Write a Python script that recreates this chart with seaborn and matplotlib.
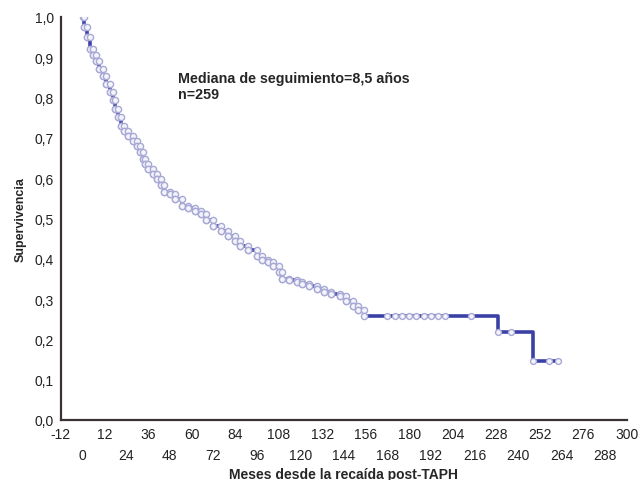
import numpy as np
import matplotlib
matplotlib.use("Agg")
import matplotlib.pyplot as plt
import seaborn as sns

# Kaplan-Meier steps (months, survival)
event_months = [0, 1, 2.5, 4, 5.5, 7.5, 9, 11, 13, 15, 16.5, 18, 19.5, 21, 23, 25,
                27.5, 30, 31.5, 33, 34.5, 36, 38.5, 41, 43, 45, 48, 51, 55, 58, 62,
                65, 68, 72, 76, 80, 84, 87, 91, 96, 99, 102, 105, 108, 110, 114, 118,
                121, 125, 129, 133, 137, 142, 145, 149, 152, 155, 229, 248]
survival = [1.0, 0.975, 0.95, 0.92, 0.905, 0.89, 0.872, 0.854, 0.834, 0.814, 0.793,
            0.772, 0.751, 0.73, 0.717, 0.705, 0.692, 0.68, 0.664, 0.648, 0.636, 0.623,
            0.61, 0.598, 0.582, 0.566, 0.56, 0.548, 0.531, 0.525, 0.519, 0.512, 0.497,
            0.481, 0.469, 0.457, 0.445, 0.432, 0.421, 0.407, 0.398, 0.392, 0.382, 0.366,
            0.35, 0.346, 0.342, 0.338, 0.333, 0.326, 0.318, 0.313, 0.308, 0.296, 0.283,
            0.273, 0.258, 0.218, 0.146]
last_month = 263

# censored patients on the long flat tail
tail_censor = [168, 172, 176, 180, 184, 188, 192, 196, 200, 214, 229, 236, 248, 257, 262]

xticks_top = [-12, 12, 36, 60, 84, 108, 132, 156, 180, 204, 228, 252, 276, 300]
xticks_bottom = [0, 24, 48, 72, 96, 120, 144, 168, 192, 216, 240, 264, 288]
yticks = [0.0, 0.1, 0.2, 0.3, 0.4, 0.5, 0.6, 0.7, 0.8, 0.9, 1.0]

sns.set_style("white")
plt.rcParams['font.family'] = ['Liberation Sans', 'DejaVu Sans']

line_color = "#3b40a6"
marker_edge = "#a9a9d6"

fig = plt.figure(figsize=(6.41, 4.81), dpi=100)
ax = fig.add_axes([0.095, 0.125, 0.883, 0.8376])

# step line
xs = event_months + [last_month]
ys = survival + [survival[-1]]
sns.lineplot(x=xs, y=ys, drawstyle="steps-post", color=line_color, lw=2.6,
             ax=ax, estimator=None, sort=False)

# markers along the dense part (at step corners)
px, py = [], []
for i in range(len(event_months) - 3):
    px += [event_months[i], event_months[i + 1]]
    py += [survival[i], survival[i]]
    px.append(event_months[i + 1])
    py.append(survival[i + 1])
sns.scatterplot(x=px, y=py, s=20, facecolor="#f4f4fb", edgecolor=marker_edge,
                linewidth=1.0, ax=ax, zorder=3)

# censor marks on the tail
idx = np.searchsorted(event_months, tail_censor, side="right") - 1
tail_y = [survival[i] for i in idx]
sns.scatterplot(x=tail_censor, y=tail_y, s=18, facecolor="#f4f4fb",
                edgecolor=marker_edge, linewidth=1.0, ax=ax, zorder=3)

ax.set_xlim(-12, 300)
ax.set_ylim(0, 1.0)

ax.set_xticks(xticks_top)
ax.set_xticklabels([str(v) for v in xticks_top])
ax.set_xticks(xticks_bottom, minor=True)
ax.set_xticklabels([str(v) for v in xticks_bottom], minor=True)
ax.set_yticks(yticks)
ax.set_yticklabels([f"{v:.1f}".replace(".", ",") for v in yticks])

ax.tick_params(axis="x", which="major", direction="in", length=3, width=1,
               pad=5, labelsize=10, colors="#222222")
ax.tick_params(axis="x", which="minor", direction="in", length=3, width=1,
               pad=20, labelsize=10, colors="#222222")
ax.tick_params(axis="y", direction="in", length=3, width=1, pad=5,
               labelsize=10, colors="#222222")

for side in ["top", "right"]:
    ax.spines[side].set_visible(False)
for side in ["left", "bottom"]:
    ax.spines[side].set_color("#3a3232")
    ax.spines[side].set_linewidth(1.6)

ax.set_xlabel("Meses desde la recaída post-TAPH", fontsize=10, fontweight="bold",
              labelpad=4)
ax.set_ylabel("Supervivencia", fontsize=9, fontweight="bold", labelpad=6)

ax.text(52.5, 0.828, "Mediana de seguimiento=8,5 años\nn=259", fontsize=10.3,
        fontweight="bold", va="center", ha="left", linespacing=1.2)

fig.savefig("out.png", dpi=100)
